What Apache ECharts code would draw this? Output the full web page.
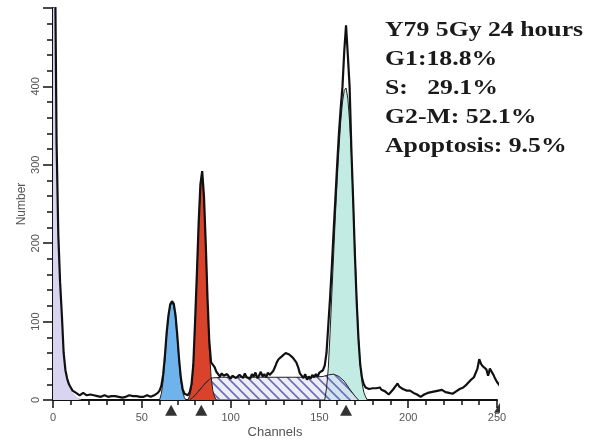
<!DOCTYPE html>
<html>
<head>
<meta charset="utf-8">
<script src="https://cdn.jsdelivr.net/npm/echarts@6/dist/echarts.min.js"></script>
<style>
  html, body { margin: 0; padding: 0; background: #fff; }
  #chart { width: 591px; height: 444px; }
</style>
</head>
<body>
<div id="chart"></div>
<script>
// raw histogram counts, split by channel range (start channel, counts per channel)
const histLow = [700, 600, 330, 210, 150, 108, 60, 38, 27, 20,
  16, 12, 10, 9, 7, 6, 8, 9, 7, 6,
  8, 7, 5, 6, 7, 5, 6, 4, 5, 6,
  5, 4, 6, 5, 4, 5, 6, 4, 5, 3,
  5, 4, 5, 6, 4, 5, 4, 5, 6, 4,
  5, 4, 5, 6, 5, 4, 5, 6, 7, 9]
const histG1 = [12, 18, 32, 56, 86, 108, 122, 126, 123, 108,
  82, 52, 28, 14, 8, 6, 6, 10, 20, 45,
  100, 160, 225, 275, 292, 260, 200, 130, 75, 48,
  46, 42, 36]
const histS = [33, 30, 34, 31, 29, 33, 30, 27, 31, 33,
  28, 26, 32, 30, 28, 34, 29, 31, 27, 33,
  30, 35, 28, 31, 36, 30, 33, 29, 35, 32,
  34, 37, 42, 48, 52, 51, 56, 55, 60, 62,
  58, 59, 54, 55, 48, 42, 34, 31, 28, 33,
  26, 30, 27, 32, 29, 33, 30, 35, 33]
const histG2 = [38, 44, 60, 95, 130, 170, 215, 257, 300, 340,
  372, 400, 445, 478, 440, 400, 320, 255, 185, 125,
  78, 45, 28, 20, 16, 15]
const histHigh = [14, 16, 15, 17, 15, 14, 16, 13, 12, 11,
  10, 7, 9, 12, 15, 18, 21, 17, 15, 14,
  13, 12, 11, 12, 10, 9, 8, 7, 5, 4,
  6, 7, 8, 9, 11, 10, 12, 11, 13, 12,
  11, 13, 12, 10, 11, 9, 10, 8, 9, 11,
  13, 14, 15, 16, 18, 20, 22, 25, 27, 29,
  31, 40, 52, 46, 43, 45, 39, 31, 40, 36,
  32, 27, 23, 20, 17]
const histStarts = [0, 60, 93, 152, 178]

// fitted model components [channel, count]
const debrisFit = [[0, 700], [1, 600], [2, 330], [3, 210], [4, 150], [5, 108], [6, 58], [7, 36], [8, 25],
  [9, 18], [10, 14], [11, 10], [12, 7], [13, 5], [14, 3], [15, 2], [16, 1], [17, 0]]
const apoFit = [[60, 0], [61, 8], [62, 24], [63, 50], [64, 82], [65, 106], [66, 120], [67, 124], [68, 120],
  [69, 104], [70, 78], [71, 48], [72, 24], [73, 10], [74, 3], [75, 0]]
const g1Fit = [[76, 0], [77, 6], [78, 18], [79, 42], [80, 96], [81, 156], [82, 222], [83, 272], [84, 290],
  [85, 258], [86, 196], [87, 126], [88, 66], [89, 30], [90, 12], [91, 4], [92, 0]]
const sFit = [[77, 0], [80, 6], [83, 14], [86, 22], [89, 28], [95, 29], [105, 29], [115, 29], [125, 29],
  [135, 29], [145, 29], [152, 30], [155, 32], [158, 33], [161, 30], [164, 24], [167, 14], [170, 5], [172, 0]]
const g2Fit = [[153, 0], [154, 15], [155, 40], [156, 85], [157, 135], [158, 185], [159, 235], [160, 280],
  [161, 320], [162, 355], [163, 380], [164, 395], [165, 398], [166, 385], [167, 355], [168, 315],
  [169, 255], [170, 190], [171, 130], [172, 80], [173, 45], [174, 22], [175, 10], [176, 4], [177, 0]]

const peakMarks = [66.5, 83.5, 165]
const infoLines = ['Y79 5Gy 24 hours', 'G1:18.8%', 'S:   29.1%', 'G2-M: 52.1%', 'Apoptosis: 9.5%']

const histogram = [];
[histLow, histG1, histS, histG2, histHigh].forEach((arr, k) => {
  arr.forEach((v, i) => histogram.push([histStarts[k] + i, v]))
})

function hatchPattern() {
  const c = document.createElement('canvas')
  c.width = 10
  c.height = 10
  const g = c.getContext('2d')
  g.fillStyle = 'rgba(222,222,246,0.55)'
  g.fillRect(0, 0, 10, 10)
  g.strokeStyle = '#6c6cbc'
  g.lineWidth = 1.6
  g.beginPath()
  g.moveTo(-5, -5); g.lineTo(15, 15)
  g.moveTo(-5, 5); g.lineTo(5, 15)
  g.moveTo(5, -5); g.lineTo(15, 5)
  g.stroke()
  return c
}

const labelFont = { color: '#555', fontSize: 11, fontFamily: 'Liberation Sans' }

function fitSeries(data, fill, line) {
  return {
    type: 'line',
    data: data,
    showSymbol: false,
    silent: true,
    lineStyle: line ? { color: '#222', width: 1 } : { width: 0 },
    areaStyle: { color: fill, opacity: 1 }
  }
}

const chart = echarts.init(document.getElementById('chart'))
chart.setOption({
  animation: false,
  backgroundColor: '#fff',
  grid: { left: 53, right: 94, top: 8, bottom: 41 },
  xAxis: {
    type: 'value',
    min: 0,
    max: 250,
    interval: 50,
    name: 'Channels',
    nameLocation: 'middle',
    nameGap: 26,
    nameMoveOverlap: false,
    nameTextStyle: { color: '#555', fontSize: 13, fontFamily: 'Liberation Sans' },
    axisLine: { lineStyle: { color: '#111', width: 2 } },
    axisTick: { length: 8, lineStyle: { color: '#111', width: 1.5 } },
    minorTick: { show: true, splitNumber: 5, length: 5, lineStyle: { color: '#111', width: 1.5 } },
    splitLine: { show: false },
    axisLabel: Object.assign({ margin: 12 }, labelFont)
  },
  yAxis: {
    type: 'value',
    min: 0,
    max: 500,
    interval: 100,
    name: 'Number',
    nameLocation: 'middle',
    nameGap: 25,
    nameMoveOverlap: false,
    nameTextStyle: { color: '#555', fontSize: 12, fontFamily: 'Liberation Sans' },
    axisLine: { show: true, lineStyle: { color: '#111', width: 2 } },
    axisTick: { show: true, length: 10, lineStyle: { color: '#111', width: 1.5 } },
    minorTick: { show: true, splitNumber: 5, length: 6, lineStyle: { color: '#111', width: 1.5 } },
    splitLine: { show: false },
    axisLabel: Object.assign({
      margin: 12,
      rotate: 90,
      formatter: v => (v === 500 ? '' : v)
    }, labelFont)
  },
  graphic: infoLines.map((t, i) => ({
    type: 'text',
    x: 385,
    y: 30 + i * 29,
    scaleX: 1.17,
    style: {
      text: t,
      fill: '#1a1a1a',
      font: 'bold 22px "Liberation Serif"',
      verticalAlign: 'middle'
    }
  })),
  series: [
    fitSeries(g2Fit, '#c2ebe4', true),
    fitSeries(sFit, { image: hatchPattern(), repeat: 'repeat' }, true),
    fitSeries(debrisFit, '#d9d5f1', false),
    fitSeries(apoFit, '#6eb3ec', true),
    fitSeries(g1Fit, '#d9432b', true),
    {
      type: 'line',
      data: sFit.filter(p => p[0] <= 92),
      showSymbol: false,
      silent: true,
      lineStyle: { color: '#333', width: 1 }
    },
    {
      type: 'line',
      data: histogram,
      showSymbol: false,
      silent: true,
      lineStyle: { color: '#111', width: 2.2 }
    },
    {
      type: 'scatter',
      clip: false,
      silent: true,
      symbol: 'triangle',
      symbolSize: [12, 11],
      itemStyle: { color: '#000' },
      data: peakMarks.map(c => [c, -13])
    },
    {
      type: 'scatter',
      clip: false,
      silent: true,
      symbol: 'path://M1,0 L1,1 L0,1 Z',
      symbolSize: [6, 10],
      itemStyle: { color: '#000' },
      data: [[250, -10]]
    }
  ]
})
</script>
</body>
</html>
